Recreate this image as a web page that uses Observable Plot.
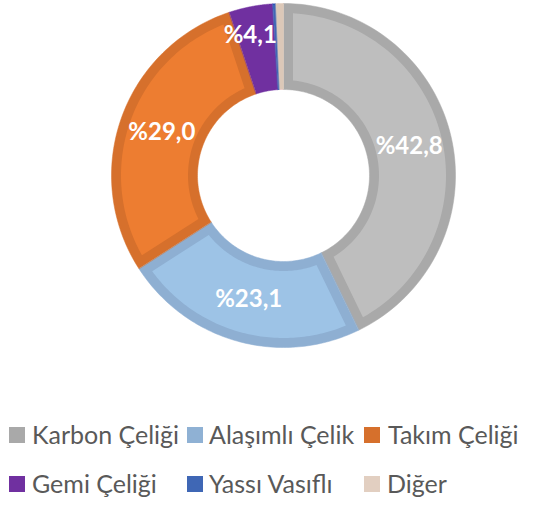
<!DOCTYPE html>
<html><head><meta charset="utf-8">
<script src="https://cdn.jsdelivr.net/npm/d3@7"></script>
<script src="https://cdn.jsdelivr.net/npm/@observablehq/plot@0.6"></script>
<style>
body{margin:0;background:#fff;}
#wrap{position:relative;width:555px;height:506px;overflow:hidden;font-family:Lato,"Open Sans",sans-serif;}
.item{position:absolute;height:30px;line-height:30px;font-size:25px;color:#595959;white-space:nowrap;}
.sw{position:absolute;width:16px;height:16px;}
</style></head>
<body><div id="wrap"></div>
<script>
const categories = ["Karbon Çeliği","Alaşımlı Çelik","Takım Çeliği","Gemi Çeliği","Yassı Vasıflı","Diğer"];
const shares = [42.8, 23.1, 29.0, 4.1, 0.3, 0.7];
const labels = ["%42,8","%23,1","%29,0","%4,1","",""];
const fills = ["#BEBEBE","#9DC3E6","#ED7D31","#7B33B1","#4472C4","#E2CFC1"];
const edges = ["#A9A9A9","#8EAFD2","#D6702C","#7030A0","#3F67B5","#DCC8B8"];
const swatches = ["#A9A9A9","#8FB1D4","#D6702C","#7030A0","#3F67B5","#E2CFC1"];

const W = 555, H = 380, cx = 283, cy = 175, ro = 172, ri = 86, bw = 9.5;
const total = d3.sum(shares);
let acc = 0;
const slices = shares.map((v, i) => {
  const a0 = acc / total * 2 * Math.PI; acc += v;
  const a1 = acc / total * 2 * Math.PI;
  return {i, a0, a1};
});
function ring(key, color, a0, a1, r0, r1, inset) {
  const pts = [], n = 80;
  const off = r => inset ? inset / r : 0;
  for (let k = 0; k <= n; k++) {
    const r = r1, s = a0 + off(r), e = a1 - off(r);
    const a = s + (e - s) * k / n;
    pts.push({key, color, x: r * Math.sin(a), y: -r * Math.cos(a)});
  }
  for (let k = 0; k <= n; k++) {
    const r = r0, s = a0 + off(r), e = a1 - off(r);
    const a = e + (s - e) * k / n;
    pts.push({key, color, x: r * Math.sin(a), y: -r * Math.cos(a)});
  }
  return pts;
}
const outer = slices.flatMap(s => ring("o" + s.i, edges[s.i], s.a0, s.a1, ri, ro, 0));
const inner = slices.filter(s => (s.a1 - s.a0) * (ri + bw) > 3 * bw)
  .flatMap(s => ring("i" + s.i, fills[s.i], s.a0, s.a1, ri + bw, ro - bw, bw));
const labelRows = slices.filter(s => labels[s.i]).map(s => {
  const a = (s.a0 + s.a1) / 2, r = (ri + ro) / 2 + (s.i === 3 ? 14 : 0);
  return {text: labels[s.i], x: r * Math.sin(a) + (s.i === 3 ? -6 : 0), y: -r * Math.cos(a)};
});

const chart = Plot.plot({
  width: W, height: H, margin: 0,
  x: {domain: [-cx, W - cx], range: [0, W], axis: null},
  y: {domain: [-cy, H - cy], range: [0, H], axis: null},
  color: {type: "identity"},
  style: {background: "transparent"},
  marks: [
    Plot.line(outer, {x: "x", y: "y", z: "key", fill: "color", stroke: "color", strokeWidth: 0.5, curve: "linear-closed"}),
    Plot.line(inner, {x: "x", y: "y", z: "key", fill: "color", stroke: "none", curve: "linear-closed"}),
    Plot.text(labelRows, {x: "x", y: "y", text: "text", fill: "white", fontSize: 24, fontWeight: "bold", fontFamily: "Lato, sans-serif"})
  ]
});
const wrap = document.getElementById("wrap");
wrap.appendChild(chart);
chart.style.position = "absolute"; chart.style.left = "0"; chart.style.top = "0";

const legendX = [[9, 32], [187, 209], [364, 388], [9, 32], [187, 209], [364, 387]];
const legendY = [435, 484];
categories.forEach((c, i) => {
  const row = Math.floor(i / 3);
  const sw = document.createElement("div");
  sw.className = "sw"; sw.style.background = swatches[i];
  sw.style.left = legendX[i][0] + "px"; sw.style.top = (legendY[row] - 8) + "px";
  wrap.appendChild(sw);
  const t = document.createElement("div");
  t.className = "item"; t.textContent = c;
  t.style.left = legendX[i][1] + "px"; t.style.top = (legendY[row] - 16) + "px";
  wrap.appendChild(t);
});
</script></body></html>
